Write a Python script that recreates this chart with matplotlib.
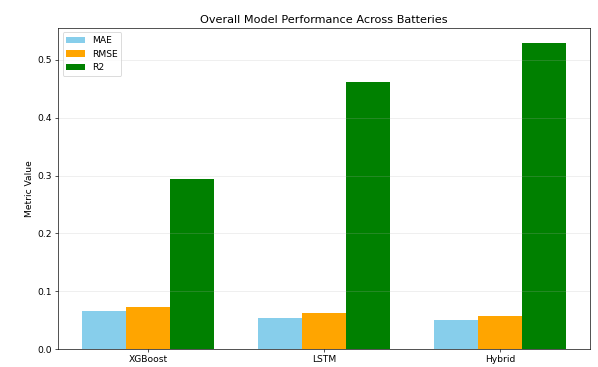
import numpy as np
import matplotlib
matplotlib.use("Agg")
import matplotlib.pyplot as plt

models = ["XGBoost", "LSTM", "Hybrid"]
mae = [0.066, 0.054, 0.051]
rmse = [0.072, 0.062, 0.057]
r2 = [0.294, 0.462, 0.529]

plt.rcParams["font.size"] = 11

fig, ax = plt.subplots(figsize=(598 / 60, 367 / 60), dpi=60)
fig.subplots_adjust(left=0.097, right=0.987, bottom=0.049, top=0.924)

x = np.arange(len(models))
w = 0.25
ax.bar(x - w, mae, w, label="MAE", color="skyblue")
ax.bar(x, rmse, w, label="RMSE", color="orange")
ax.bar(x + w, r2, w, label="R2", color="green")

ax.set_xticks(x)
ax.set_xticklabels(models)
ax.set_ylabel("Metric Value")
ax.set_title("Overall Model Performance Across Batteries", fontsize=13.5)
ax.legend(loc="upper left")
ax.grid(axis="y", alpha=0.3)

fig.savefig("out.png", dpi=60)
